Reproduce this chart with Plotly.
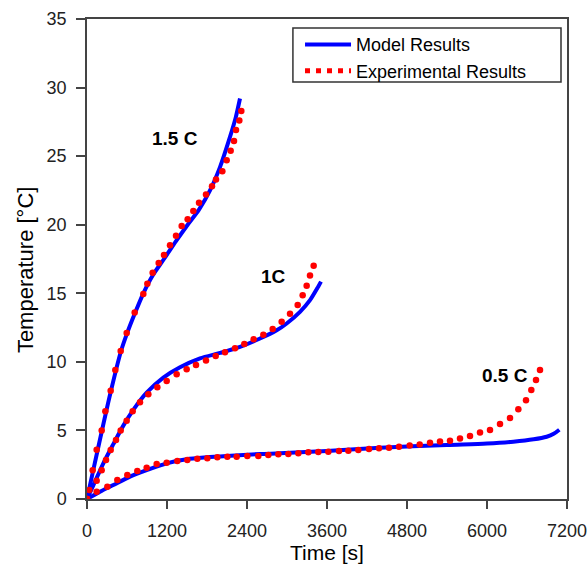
import plotly.graph_objects as go

# ---------------- data ----------------
# 1.5 C
model_15_t = [0, 85, 220, 355, 505, 595, 715, 845, 985, 1155, 1335, 1510, 1680, 1845, 1995, 2145, 2230, 2295]
model_15_T = [0, 1.9, 4.9, 7.8, 10.7, 12.0, 13.5, 15.0, 16.3, 17.5, 18.8, 20.0, 21.1, 22.5, 24.2, 26.4, 27.8, 29.2]
exp_15_t = [0, 35, 85, 145, 220, 275, 355, 425, 505, 595, 715, 845, 905, 985, 1075, 1155, 1245, 1335, 1420, 1510,
            1595, 1680, 1785, 1875, 1935, 2030, 2095, 2155, 2205, 2235, 2285, 2315]
exp_15_T = [0, 0.66, 2.1, 3.6, 5.0, 6.4, 7.9, 9.4, 10.8, 12.1, 13.6, 14.95, 15.7, 16.5, 17.2, 17.8, 18.5, 19.2, 19.9, 20.4,
            21.0, 21.6, 22.2, 22.8, 23.3, 23.9, 24.7, 25.4, 26.1, 26.9, 27.6, 28.3]

# 1 C
model_1_t = [0, 95, 245, 395, 545, 695, 895, 1145, 1395, 1695, 1995, 2295, 2595, 2845, 2995, 3195, 3345, 3470, 3510]
model_1_T = [0, 1.0, 2.6, 4.0, 5.35, 6.5, 7.75, 8.85, 9.6, 10.25, 10.65, 11.1, 11.7, 12.3, 12.8, 13.65, 14.5, 15.5, 15.85]
exp_1_t = [0, 145, 220, 285, 355, 435, 505, 595, 685, 795, 920, 1055, 1195, 1345, 1495, 1635, 1785, 1930, 2070,
           2220, 2360, 2500, 2645, 2785, 2920, 3045, 3160, 3235, 3295, 3345, 3400]
exp_1_T = [0, 1.33, 2.1, 2.84, 3.57, 4.3, 5.0, 5.7, 6.4, 7.05, 7.63, 8.14, 8.6, 9.09, 9.46, 9.77, 10.1, 10.43, 10.7,
           11.0, 11.3, 11.65, 11.98, 12.4, 12.93, 13.5, 14.15, 14.85, 15.55, 16.3, 17.0]

# 0.5 C
model_05_t = [0, 195, 395, 645, 895, 1195, 1495, 1795, 2095, 2595, 2895, 3600, 4395, 5395, 6000, 6395, 6700, 6895, 7000, 7085]
model_05_T = [0, 0.53, 1.02, 1.63, 2.1, 2.6, 2.9, 3.04, 3.14, 3.28, 3.33, 3.5, 3.74, 3.94, 4.05, 4.18, 4.35, 4.54, 4.75, 5.05]
exp_05_t = [0, 145, 305, 455, 605, 755, 895, 1045, 1195, 1355, 1505, 1655, 1805, 1955, 2105, 2245, 2405, 2570, 2720,
            2870, 3020, 3170, 3320, 3470, 3620, 3780, 3920, 4070, 4230, 4380, 4530, 4680, 4840, 4990, 5145, 5295,
            5445, 5595, 5745, 5895, 6045, 6195, 6345, 6470, 6585, 6665, 6735, 6795]
exp_05_T = [0, 0.53, 0.9, 1.39, 1.75, 2.04, 2.28, 2.55, 2.65, 2.77, 2.84, 2.94, 2.97, 3.04, 3.08, 3.08, 3.13, 3.13, 3.2,
            3.26, 3.28, 3.33, 3.4, 3.43, 3.45, 3.5, 3.52, 3.57, 3.65, 3.7, 3.74, 3.81, 3.91, 3.97, 4.1, 4.2,
            4.25, 4.42, 4.59, 4.84, 5.03, 5.47, 5.9, 6.54, 7.2, 7.95, 8.68, 9.4]

x_ticks = [0, 1200, 2400, 3600, 4800, 6000, 7200]
y_ticks = [0, 5, 10, 15, 20, 25, 30, 35]

rate_labels = ["1.5 C", "1C", "0.5 C"]
label_t = [1320, 2795, 6270]
label_T = [26.3, 16.2, 9.04]

# ---------------- styles ----------------
FONT = "Arial, Liberation Sans, sans-serif"
BLUE = "#0000ff"
RED = "#ff0000"
AXIS = "#444444"

fig = go.Figure()

models = [(model_15_t, model_15_T), (model_1_t, model_1_T), (model_05_t, model_05_T)]
exps = [(exp_15_t, exp_15_T), (exp_1_t, exp_1_T), (exp_05_t, exp_05_T)]

for t, T in models:
    fig.add_trace(go.Scatter(x=t, y=T, mode="lines", line=dict(color=BLUE, width=4, shape="spline", smoothing=0.8),
                             showlegend=False, hoverinfo="x+y"))
for t, T in exps:
    fig.add_trace(go.Scatter(x=t, y=T, mode="markers", marker=dict(color=RED, size=6.5),
                             showlegend=False, hoverinfo="x+y"))

# legend entries
fig.add_trace(go.Scatter(x=[None], y=[None], mode="lines", name="Model Results",
                         line=dict(color=BLUE, width=4)))
fig.add_trace(go.Scatter(x=[None], y=[None], mode="lines", name="Experimental Results",
                         line=dict(color=RED, width=5, dash="5px,6px")))

for txt, tx, ty in zip(rate_labels, label_t, label_T):
    fig.add_annotation(x=tx, y=ty, text="<b>%s</b>" % txt, showarrow=False,
                       font=dict(family=FONT, size=19, color="black"))

fig.add_annotation(xref="paper", yref="paper", x=-0.129, y=0.477, xanchor="center", yanchor="middle",
                   text="Temperature [°C]", textangle=-90, showarrow=False,
                   font=dict(family=FONT, size=22, color="black"))

# legend frame
fig.add_shape(type="rect", xref="paper", yref="paper", x0=0.429, x1=0.9875, y0=0.869, y1=0.981,
              line=dict(color="#333333", width=1.5), fillcolor="rgba(0,0,0,0)", layer="above")

fig.update_layout(
    width=587, height=564,
    margin=dict(l=87, r=20, t=19, b=65),
    paper_bgcolor="white", plot_bgcolor="white",
    font=dict(family=FONT, color="black"),
    legend=dict(x=0.4438, y=0.985, xanchor="left", yanchor="top",
                borderwidth=0, bgcolor="rgba(0,0,0,0)",
                font=dict(family=FONT, size=18, color="black"),
                itemwidth=46, tracegroupgap=0),
    xaxis=dict(range=[0, 7200], tickvals=x_ticks, ticks="outside", ticklen=8, tickwidth=1.5,
               tickcolor=AXIS, showline=True, linecolor=AXIS, linewidth=1.5, mirror=True,
               showgrid=False, zeroline=False, tickfont=dict(family=FONT, size=18, color="#222222"),
               ticklabelstandoff=7, automargin=False, ticklabeloverflow="allow",
               title=dict(text="Time [s]", font=dict(family=FONT, size=21, color="black"), standoff=6)),
    yaxis=dict(range=[0, 35], tickvals=y_ticks, ticks="outside", ticklen=9, tickwidth=1.5,
               tickcolor=AXIS, showline=True, linecolor=AXIS, linewidth=1.5, mirror=True,
               showgrid=False, zeroline=False, tickfont=dict(family=FONT, size=18, color="#222222"),
               ticklabelstandoff=6, automargin=False),
)

# remove the default 8px page margin so the 587x564 figure fills the window exactly
fig.write_html("out.html", config={"displayModeBar": False},
               post_script="document.body.style.margin='0';document.body.style.overflow='hidden';")
